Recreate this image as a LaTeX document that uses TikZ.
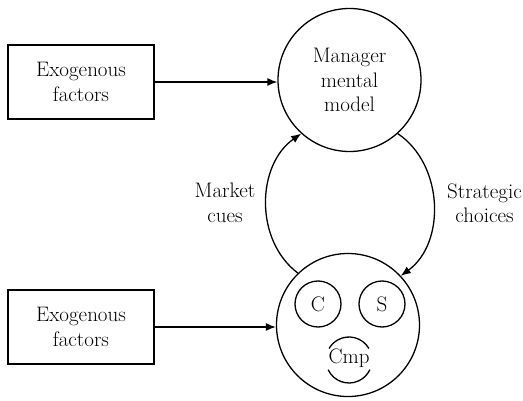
\documentclass[tikz,border=0pt]{standalone}
\usetikzlibrary{arrows.meta}
\begin{document}
\begin{tikzpicture}[x=1pt,y=1pt, line width=1.3pt,
  txt/.style={font=\fontsize{21}{24.5}\selectfont, align=center},
  exobox/.style={draw, minimum width=146pt, minimum height=74pt, inner sep=0pt, txt},
  bigc/.style={draw, circle, minimum size=143pt, inner sep=0pt, txt},
  smallc/.style={draw, circle, minimum size=46pt, inner sep=0pt, txt},
  arr/.style={-{Latex[length=10pt,width=8pt]}}]
\useasboundingbox (0,0) rectangle (523,400);
\node[exobox] (ex1) at (81,318) {Exogenous\\factors};
\node[exobox] (ex2) at (81,73) {Exogenous\\factors};
\node[bigc] (mm) at (349.5,320) {Manager\\mental\\model};
\node[bigc] (firm) at (348,75) {};
\node[smallc] (c) at (318,96) {C};
\node[smallc] (s) at (382,96) {S};
\node[txt, inner sep=0pt] (cmp) at (349,42) {Cmp};
\coordinate (cmpc) at (349,40);
\draw ([shift={(30:23)}]cmpc) arc[start angle=30, end angle=150, radius=23];
\draw ([shift={(205:23)}]cmpc) arc[start angle=205, end angle=335, radius=23];
\node[txt] (mc) at (225,197) {Market\\cues};
\node[txt] (sc) at (484.5,197) {Strategic\\choices};
\draw[arr] (ex1.east) -- (ex1.east -| mm.west);
\draw[arr] (ex2.east) -- (ex2.east -| firm.west);
\draw[arr] (firm.134) to[out=143, in=215] (mm.228);
\draw[arr] (mm.312) to[out=-34, in=36] (firm.43);
\end{tikzpicture}
\end{document}
